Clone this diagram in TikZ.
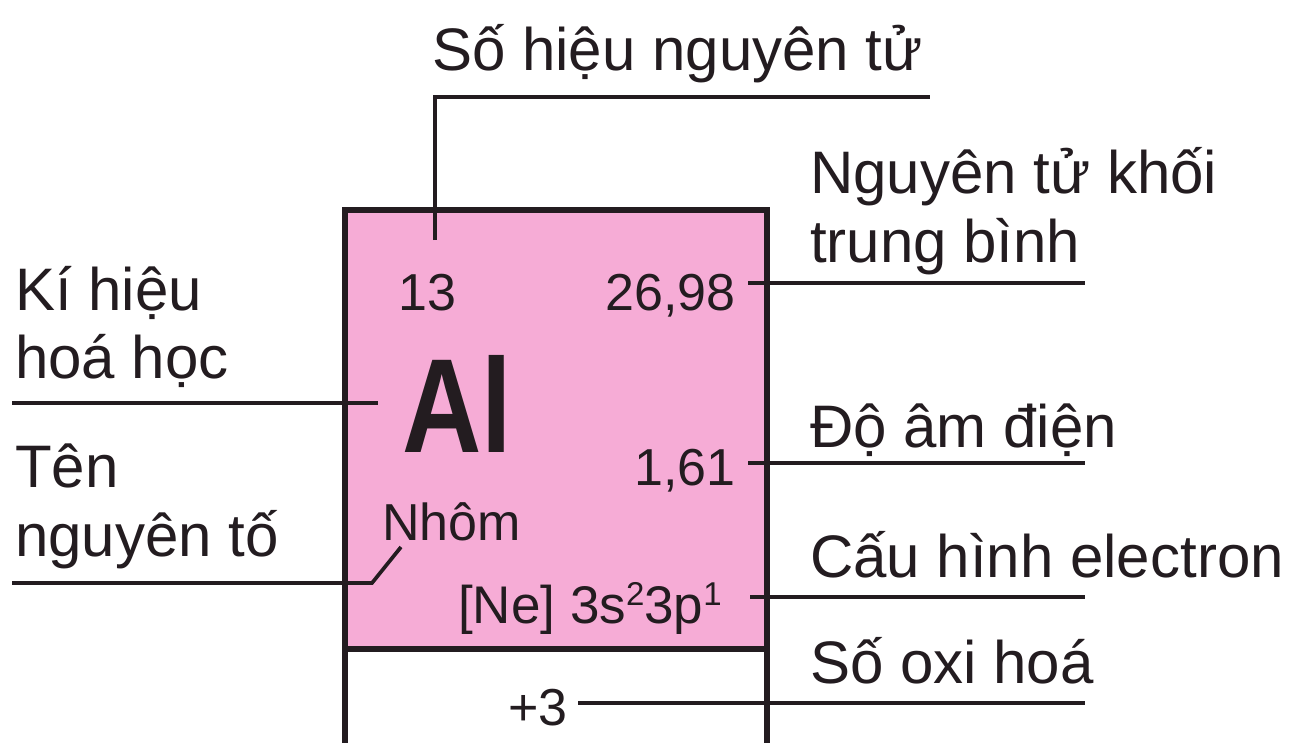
\documentclass[tikz,border=0pt]{standalone}
\usepackage{fontspec}
\setmainfont{Liberation Sans}
\definecolor{cellpink}{RGB}{246,172,214}
\definecolor{ink}{RGB}{35,28,32}
\begin{document}
\begin{tikzpicture}[x=1pt,y=-1pt,
  lab/.style={inner sep=0pt,text=ink,font=\fontsize{60}{66}\selectfont},
  val/.style={inner sep=0pt,text=ink,font=\fontsize{52}{58}\selectfont},
  lead/.style={draw=ink,line width=3.7pt},
  frame/.style={draw=ink,line width=6pt}]
\useasboundingbox (0,0) rectangle (1299,742);
\clip (0,0) rectangle (1299,742);
\fill[white] (0,0) rectangle (1299,742);
% element cell
\fill[cellpink] (345,210) rectangle (767,649);
\draw[frame] (345,760) -- (345,210) -- (767,210) -- (767,760);
\draw[frame] (345,649) -- (767,649);
% labels
\node[lab,anchor=base west] (sohieu) at (432,70) {Số hiệu nguyên tử};
\node[lab,anchor=base west] (ntk1) at (810,193) {Nguyên tử khối};
\node[lab,anchor=base west] (ntk2) at (810,262) {trung bình};
\node[lab,anchor=base west] (kh1) at (15,310) {Kí hiệu};
\node[lab,anchor=base west] (kh2) at (15,378) {hoá học};
\node[lab,anchor=base west] (ten1) at (15,487) {Tên};
\node[lab,anchor=base west] (ten2) at (15,556) {nguyên tố};
\node[lab,anchor=base west] (dam) at (810,447) {Độ âm điện};
\node[lab,anchor=base west] (chinh) at (810,577) {Cấu hình electron};
\node[lab,anchor=base west] (soxh) at (810,683) {Số oxi hoá};
% values
\node[val,anchor=base west] (z) at (398,310) {13};
\node[val,anchor=base east] (mass) at (736,310) {26,98};
\node[inner sep=0pt,text=ink,anchor=base west,xscale=0.82,font=\fontsize{134}{140}\selectfont\bfseries] (sym) at (402,452) {Al};
\node[val,anchor=base east] (en) at (736,485) {1,61};
\node[val,anchor=base west] (name) at (382,540) {Nhôm};
\node[val,anchor=base east,font=\fontsize{53}{58}\selectfont] (conf) at (722,623) {[Ne] 3s\raisebox{18pt}{\fontsize{33}{36}\selectfont 2}3p\raisebox{18pt}{\fontsize{33}{36}\selectfont 1}};
\node[val,anchor=base east] (ox) at (568,725) {+3};
% leader end points
\coordinate (zTop) at (435,240);
\coordinate (zCorner) at (435,97);
\coordinate (zEnd) at (930,97);
\coordinate (massA) at (748,283);
\coordinate (massB) at (1085,283);
\coordinate (symA) at (12,403);
\coordinate (symB) at (378,403);
\coordinate (nameA) at (12,583);
\coordinate (nameB) at (372,583);
\coordinate (nameC) at (401,547);
\coordinate (enA) at (748,463);
\coordinate (enB) at (1085,463);
\coordinate (confA) at (750,597);
\coordinate (confB) at (1085,597);
\coordinate (oxA) at (578,703);
\coordinate (oxB) at (1085,703);
% leaders
\draw[lead] (zTop) -- (zCorner) -- (zEnd);
\draw[lead] (massA) -- (massB);
\draw[lead] (symA) -- (symB);
\draw[lead] (nameA) -- (nameB) -- (nameC);
\draw[lead] (enA) -- (enB);
\draw[lead] (confA) -- (confB);
\draw[lead] (oxA) -- (oxB);
\end{tikzpicture}
\end{document}
